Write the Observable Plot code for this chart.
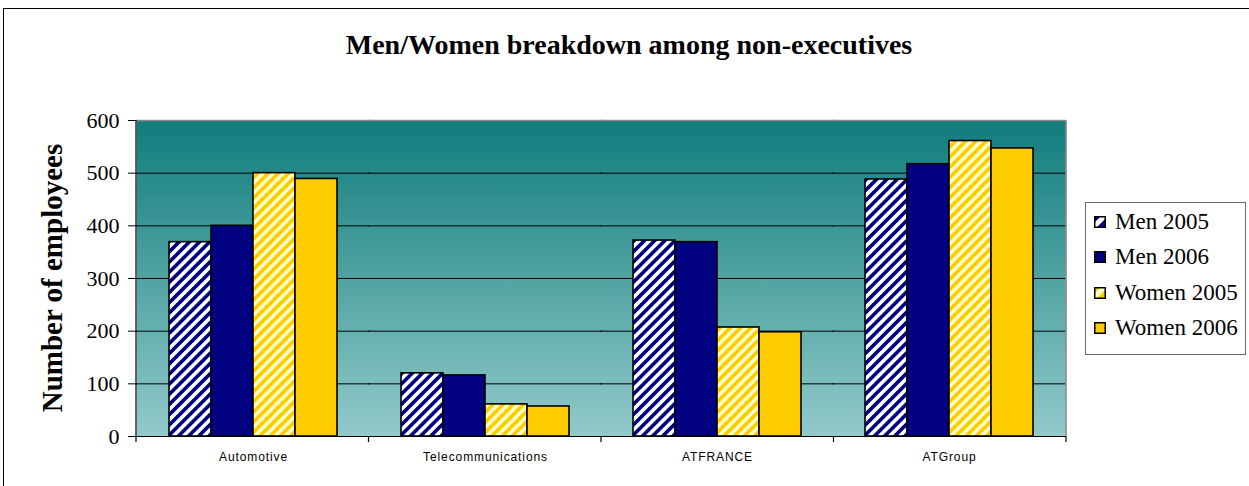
<!DOCTYPE html>
<html><head><meta charset="utf-8">
<script src="https://cdn.jsdelivr.net/npm/d3@7"></script>
<script src="https://cdn.jsdelivr.net/npm/@observablehq/plot@0.6"></script>
<style>
html,body{margin:0;padding:0;background:#fff;}
#wrap{position:relative;width:1249px;height:486px;overflow:hidden;background:#fff;}
#border{position:absolute;left:3px;top:8px;width:1400px;height:700px;border:1px solid #000;box-sizing:border-box;}
#title{position:absolute;left:0;width:1258px;top:31px;text-align:center;font-family:"Liberation Serif","Times New Roman",serif;font-weight:bold;font-size:28px;line-height:28px;color:#000;}
#chart{position:absolute;left:0;top:0;}
#legend{position:absolute;left:1085px;top:202px;width:161px;height:153px;border:1px solid #6b6b6b;box-sizing:border-box;background:#fff;}
.row{position:absolute;left:0;height:35px;line-height:35px;font-family:"Liberation Serif","Times New Roman",serif;font-size:23px;white-space:nowrap;color:#000;}
.row svg{position:absolute;left:8px;top:12px;}
.row span{position:absolute;left:29px;top:0;line-height:35px;}
</style></head><body>
<div id="wrap">
 <div id="border"></div>
 <div id="title">Men/Women breakdown among non-executives</div>
 <div id="chart"></div>
 <div id="legend"></div>
</div>
<script>
const categories = ["Automotive", "Telecommunications", "ATFRANCE", "ATGroup"];
const series = ["Men 2005", "Men 2006", "Women 2005", "Women 2006"];
const men2005 = [369, 120, 372, 488];
const men2006 = [400, 116, 369, 517];
const women2005 = [500, 61, 207, 561];
const women2006 = [489, 57, 198, 547];
const yTicks = [0, 100, 200, 300, 400, 500, 600];
const gridValues = [100, 200, 300, 400, 500];
const yLabel = "Number of employees";
const seriesFills = ["url(#hatchMen)", "#000080", "url(#hatchWomen)", "#FFCC00"];

const valuesBySeries = [men2005, men2006, women2005, women2006];
const table = [];
categories.forEach((c, i) => {
  series.forEach((s, j) => table.push({category: c, series: s, value: valuesBySeries[j][i]}));
});

const chart = Plot.plot({
  width: 1070,
  height: 486,
  marginLeft: 136,
  marginRight: 4,
  marginTop: 120,
  marginBottom: 50,
  style: {fontFamily: "'Liberation Serif', 'Times New Roman', serif", fontSize: "22px", background: "transparent", color: "#000"},
  facet: {data: table, x: "category"},
  fx: {domain: categories, paddingInner: 0, paddingOuter: 0, label: null, axis: "bottom", tickSize: 0, tickPadding: 16},
  x: {domain: series, paddingInner: 0, paddingOuter: 0.75, axis: null},
  y: {domain: [0, 600], ticks: yTicks, tickSize: 9, tickPadding: 9, line: true, label: null},
  color: {type: "ordinal", domain: series, range: seriesFills},
  marks: [
    Plot.frame({fill: "url(#bgGrad)", stroke: "none", insetLeft: -0.75, insetRight: -0.75}),
    Plot.ruleY(gridValues, {stroke: "#000", strokeWidth: 1, insetLeft: -0.75, insetRight: -0.75}),
    Plot.ruleY([600], {stroke: "#8a8a8a", strokeWidth: 1.5, insetLeft: -0.75, insetRight: -0.75}),
    Plot.barY(table, {x: "series", y: "value", fill: "series", stroke: "#000", strokeWidth: 1.6}),
    Plot.ruleY([0], {stroke: "#000", strokeWidth: 1.2, insetLeft: -0.75, insetRight: -0.75})
  ]
});
document.getElementById("chart").appendChild(chart);

const svg = d3.select(chart);
const defs = svg.insert("defs", ":first-child");
const grad = defs.append("linearGradient").attr("id", "bgGrad").attr("x1", 0).attr("y1", 0).attr("x2", 0).attr("y2", 1);
grad.append("stop").attr("offset", "0%").attr("stop-color", "#107c7c");
grad.append("stop").attr("offset", "100%").attr("stop-color", "#93caca");
function hatch(sel, id, bg, fg, size) {
  const p = sel.append("pattern").attr("id", id).attr("patternUnits", "userSpaceOnUse")
    .attr("width", size).attr("height", size).attr("patternTransform", "rotate(45)");
  p.append("rect").attr("width", size).attr("height", size).attr("fill", bg);
  p.append("rect").attr("width", size / 2).attr("height", size).attr("fill", fg);
}
hatch(defs, "hatchMen", "#ffffff", "#000080", 7.2);
hatch(defs, "hatchWomen", "#ffffc8", "#ffcc00", 7.2);

// category label styling
svg.selectAll("text").filter(function () { return categories.includes(this.textContent); })
  .style("font-family", "'Liberation Sans', Arial, sans-serif")
  .style("font-size", "12px")
  .style("letter-spacing", "0.9px");

// ticks at category boundaries and right border, derived from the fx / y scales
const fx = chart.scale("fx");
const ys = chart.scale("y");
const yBottom = ys.range[0], yTop = ys.range[1];
const xStart = fx.range[0], xEnd = fx.range[1];
const step = (xEnd - xStart) / fx.domain.length;
const extra = svg.append("g");
extra.append("line").attr("x1", xEnd).attr("x2", xEnd).attr("y1", yTop).attr("y2", yBottom)
  .attr("stroke", "#8a8a8a").attr("stroke-width", 1.5);
for (let i = 0; i <= fx.domain.length; i++) {
  const x = xStart + i * step;
  extra.append("line").attr("x1", x).attr("x2", x).attr("y1", yBottom).attr("y2", yBottom + 6)
    .attr("stroke", "#000").attr("stroke-width", 1.2);
}
extra.append("line").attr("x1", xStart).attr("x2", xStart).attr("y1", yTop).attr("y2", yBottom)
  .attr("stroke", "#000").attr("stroke-width", 1.2);
extra.append("text").text(yLabel)
  .attr("transform", `translate(62,${(yTop + yBottom) / 2}) rotate(-90)`)
  .attr("text-anchor", "middle")
  .style("font-family", "'Liberation Serif', 'Times New Roman', serif")
  .style("font-weight", "bold").style("font-size", "29px");

// legend
const legend = d3.select("#legend");
series.forEach((s, i) => {
  const row = legend.append("div").attr("class", "row").style("top", (1 + i * 35.3) + "px");
  const sw = row.append("svg").attr("width", 12).attr("height", 12);
  const d = sw.append("defs");
  hatch(d, "lg" + i + "a", "#ffffff", "#000080", 10);
  hatch(d, "lg" + i + "b", "#ffffc8", "#ffcc00", 10);
  const fill = i === 0 ? `url(#lg${i}a)` : i === 2 ? `url(#lg${i}b)` : seriesFills[i];
  sw.append("rect").attr("x", 0.75).attr("y", 0.75).attr("width", 10.5).attr("height", 10.5)
    .attr("fill", fill).attr("stroke", "#000").attr("stroke-width", 1.5);
  row.append("span").text(s);
});
</script>
</body></html>
